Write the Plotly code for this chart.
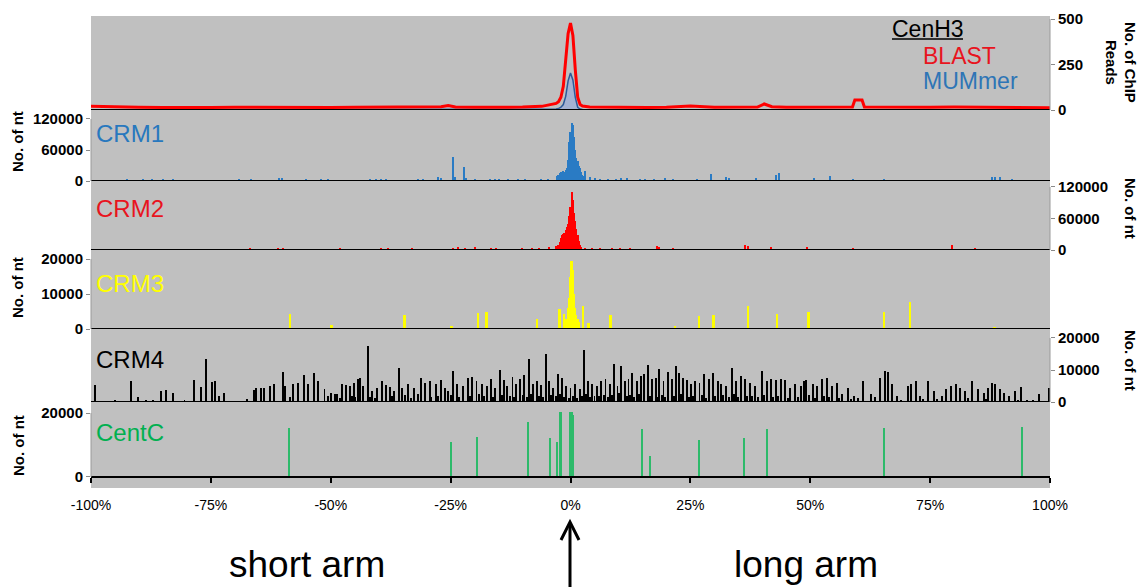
import plotly.graph_objects as go

# ------------------------------------------------------------------ data
x_tick_vals = [-100, -75, -50, -25, 0, 25, 50, 75, 100]
x_tick_text = ['-100%', '-75%', '-50%', '-25%', '0%', '25%', '50%', '75%', '100%']

# CenH3 ChIP reads (position in % of arm, reads)
cenh3_pos = [-100, -95, -90, -85, -80, -75, -70, -65, -60, -55,
             -50, -45, -40, -35, -30, -27, -25.5, -24, -20, -15,
             -10, -6, -4, -3, -2.5, -2, -1.5, -1, -0.5, 0,
             0.5, 1, 1.5, 2, 2.5, 4, 8, 12, 16, 20,
             25, 30, 35, 39, 40.4, 42, 45, 50, 55, 58.8,
             59.3, 60.8, 61.3, 65, 70, 75, 80, 85, 90, 95,
             100]
blast = [20, 16, 15, 14, 16, 14, 15, 14, 16, 15,
         14, 15, 16, 14, 15, 18, 25, 17, 15, 14,
         16, 20, 28, 36, 45, 70, 130, 260, 420, 478,
         410, 220, 70, 30, 22, 17, 15, 16, 14, 15,
         22, 15, 14, 16, 33, 18, 15, 16, 15, 16,
         55, 55, 16, 15, 14, 15, 16, 15, 18, 15,
         13]
mummer = [2, 2, 2, 2, 2, 2, 2, 2, 2, 2,
          2, 2, 2, 2, 2, 2, 3, 2, 2, 2,
          2, 2, 3, 5, 8, 15, 30, 75, 160, 203,
          165, 70, 15, 5, 3, 2, 2, 2, 2, 2,
          2, 2, 2, 2, 4, 2, 2, 2, 2, 2,
          6, 6, 2, 2, 2, 2, 2, 2, 2, 2,
          2]

crm1_pos = [-92.5, -89.2, -87.3, -85.0, -82.9, -69.2, -66.6, -60.7, -60.2, -55.1,
            -52.0, -50.5, -41.7, -40.5, -39.5, -38.4, -31.8, -30.8, -27.6, -26.9,
            -24.5, -24.0, -22.1, -21.7, -20.0, -16.8, -15.8, -14.8, -13.0, -10.9,
            -9.5, -6.1, -4.7, -2.9,
            -2.5, -2.25, -2.0, -1.75, -1.5, -1.25, -1.0, -0.75, -0.5, -0.25,
            0.0, 0.25, 0.5, 0.75, 1.0, 1.25, 1.5, 1.75, 2.0, 2.25, 2.5, 2.75,
            3.0, 4.0, 5.1, 6.1, 7.9, 9.6, 10.6, 11.7, 14.5, 15.5,
            17.4, 19.7, 21.4, 26.3, 29.4, 32.4, 33.0, 38.7, 42.9, 43.4,
            50.7, 54.1, 58.9, 65.3, 87.9, 88.6, 89.5, 92.1]
crm1_val = [2500, 2000, 3000, 4000, 3000, 3500, 2000, 5000, 5000, 3500,
            2500, 4000, 3500, 3000, 4500, 2500, 2500, 3500, 8000, 5000,
            47000, 8000, 27000, 6000, 3000, 4000, 4000, 3000, 3000, 3500,
            2500, 3500, 3500, 10000,
            12000, 15000, 18000, 14000, 20000, 17000, 22000, 25000, 40000, 75000,
            95000, 112000, 108000, 85000, 60000, 45000, 38000, 30000, 25000, 18000, 12000, 10000,
            20000, 8000, 5000, 4000, 3500, 4000, 6000, 5000, 4000, 4000,
            3000, 5000, 3000, 2500, 13000, 8000, 5000, 5000, 12000, 15000,
            5000, 9000, 3000, 2000, 7000, 8000, 7000, 3000]

crm2_pos = [-66.8, -61.0, -60.0, -48.0, -39.5, -38.0, -33.0, -24.5, -23.5, -22.0,
            -20.0, -16.5, -15.5, -10.0, -8.0, -6.5, -4.4, -3.0,
            -2.5, -2.25, -2.0, -1.75, -1.5, -1.25, -1.0, -0.75, -0.5, -0.25,
            0.0, 0.25, 0.5, 0.75, 1.0, 1.25, 1.5, 1.75, 2.0, 2.25,
            3.0, 4.4, 6.1, 8.6, 10.3, 12.4, 18.0, 18.5, 21.4, 36.5,
            37.0, 41.8, 49.4, 58.9, 79.5, 84.4]
crm2_val = [3000, 4000, 4000, 3000, 3500, 4000, 3000, 3500, 5000, 4000,
            5000, 4000, 3000, 3000, 3000, 3000, 5000, 8000,
            10000, 15000, 22000, 28000, 30000, 32000, 38000, 44000, 50000, 65000,
            82000, 111000, 95000, 70000, 55000, 40000, 28000, 18000, 10000, 6000,
            4000, 3500, 4000, 3500, 4000, 3500, 7000, 5000, 3000, 9000,
            8000, 5000, 5000, 3000, 9000, 4000]

crm3_pos = [-58.4, -49.8, -34.6, -24.8, -19.3, -17.5, -6.9, -2.2, -1.3,
            -0.75, -0.5, -0.25, 0.0, 0.25, 0.5, 0.75, 1.0, 1.25, 1.5, 1.75,
            2.6, 3.8, 8.4, 21.8, 26.9, 29.9, 37.1, 43.1, 49.7, 65.4, 70.8, 88.5]
crm3_val = [4300, 1100, 4000, 800, 4700, 5000, 2900, 5700, 4300,
            3000, 6000, 9000, 15000, 19500, 17000, 10000, 6000, 4000, 3000, 2000,
            6600, 1800, 4000, 800, 3700, 4000, 6600, 4200, 5000, 4900, 7800, 500]

crm4_pos = [-99.1, -91.7, -90.2, -88.5, -85.4, -84.4, -82.9, -78.6, -77.1, -76.1,
            -74.8, -74.2, -73.3, -72.3, -69.1, -66.1, -65.5, -64.6, -63.9, -62.7,
            -61.8, -60.0, -59.5, -57.8, -56.9, -55.6, -54.7, -53.5, -52.7, -51.3,
            -49.9, -49.2, -48.6, -47.7, -46.9, -46.0, -45.1, -44.4, -43.9, -43.2,
            -42.2, -41.3, -40.3, -39.3, -38.4, -37.7, -36.8, -35.8, -35.2, -33.9,
            -32.6, -31.2, -30.3, -29.4, -28.1, -27.0, -26.2, -25.6, -24.6, -23.7,
            -22.4, -21.4, -20.5, -19.6, -18.5, -17.5, -16.6, -15.7, -14.8, -13.9,
            -13.2, -12.1, -11.3, -10.5, -9.6, -8.7, -7.8, -7.0, -6.1, -5.2,
            -4.5, -3.6, -2.6, -1.7, -0.9, 0.0, 0.9, 1.9, 2.8, 3.6,
            4.5, 5.5, 6.4, 7.3, 8.3, 9.1, 9.8, 10.5, 11.3, 12.1,
            12.9, 13.8, 14.7, 15.3, 16.2, 17.0, 17.9, 18.5, 19.4, 20.3,
            21.1, 22.0, 22.6, 23.4, 24.3, 25.2, 26.0, 26.9, 27.9, 28.8,
            29.7, 30.7, 31.3, 32.4, 33.6, 34.5, 35.5, 36.4, 37.5, 38.4,
            39.9, 40.9, 41.8, 42.8, 43.9, 44.8, 45.8, 46.9, 48.0, 48.6,
            49.2, 50.5, 51.5, 52.4, 53.5, 54.6, 55.6, 56.6, 57.8, 59.2,
            61.0, 62.7, 64.6, 65.5, 66.2, 67.1, 68.1, 70.3, 71.0, 72.0,
            72.9, 74.6, 75.8, 77.4, 78.4, 79.3, 80.3, 81.2, 82.2, 83.8,
            85.0, 86.3, 87.0, 88.0, 88.6, 89.5, 90.5, 91.4, 92.7, 94.0,
            95.3, 97.8, 99.7]
crm4_val = [5300, 6600, 1700, 500, 3400, 3750, 2900, 6800, 4700, 13300,
            6400, 6600, 1900, 2900, 300, 3750, 4300, 4500, 4500, 5000,
            5500, 9400, 5000, 5500, 6000, 8400, 5500, 9000, 6600, 4000,
            2900, 2600, 2400, 5500, 5300, 5000, 6000, 7300, 7600, 5000,
            17500, 3400, 4300, 6600, 5300, 4700, 3400, 10500, 4500, 5500,
            4300, 7600, 6000, 6600, 5500, 6800, 4500, 3400, 9600, 5500,
            5000, 7600, 7800, 6600, 5500, 5000, 7100, 4500, 9900, 6800,
            5000, 7800, 5500, 7100, 8400, 13400, 5500, 6600, 5200, 14900,
            6600, 4500, 8600, 7600, 5000, 4500, 5500, 4000, 16300, 6600,
            5500, 5000, 6600, 7100, 5500, 11800, 5000, 11400, 6600, 7100,
            9200, 6600, 8100, 8900, 11600, 7100, 7600, 10200, 6600, 9500,
            7100, 11300, 9200, 7600, 6800, 5500, 6600, 6000, 8600, 7100,
            9200, 6600, 5500, 5000, 10700, 6600, 8100, 7100, 6000, 5000,
            9700, 6600, 7100, 6800, 7100, 6800, 4500, 5500, 5000, 6600,
            6800, 5500, 5000, 7100, 7600, 5000, 6000, 2400, 4500, 1900,
            6600, 2400, 7600, 9700, 9500, 5500, 1900, 5000, 5500, 6600,
            1900, 6600, 3400, 1900, 4000, 5000, 5500, 4500, 3400, 6600,
            4000, 2900, 4500, 6000, 5500, 4000, 2900, 1900, 3400, 4700,
            500, 2400, 4300]
crm4_low_pos = [-95.0, -87.0, -80.5, -70.5, -67.5, -58.5, -50.6, -48.0, -45.6, -44.9,
                -41.8, -40.8, -37.2, -34.5, -33.2, -31.8, -29.0, -27.6, -25.0, -23.2,
                -21.0, -19.0, -18.0, -16.1, -14.3, -12.6, -11.7, -10.0, -9.1, -8.2,
                -6.6, -5.7, -4.0, -3.1, -2.2, -1.3, -0.4, 0.5, 1.4, 2.3,
                3.2, 4.0, 5.0, 6.0, 6.9, 7.8, 8.7, 10.1, 11.7, 12.5,
                13.3, 14.2, 16.6, 18.0, 19.0, 19.8, 21.6, 23.0, 24.7, 25.6,
                27.4, 28.3, 30.2, 31.8, 33.0, 34.0, 35.0, 36.9, 37.9, 39.2,
                40.4, 42.3, 43.3, 45.3, 47.4, 49.8, 51.0, 52.9, 54.0, 56.0,
                58.5, 60.0, 63.5, 69.0, 73.6, 76.5, 82.9, 86.6, 93.3, 96.5]
crm4_low_val = [600, 500, 400, 300, 800, 1500, 1800, 1200, 2000, 1600,
                1500, 1200, 1800, 2200, 1400, 2500, 1700, 2000, 2200, 1500,
                1800, 2400, 1900, 1600, 2300, 2000, 1500, 2100, 1700, 2600,
                1900, 1500, 2200, 1800, 2500, 1600, 1400, 2000, 1300, 1800,
                2400, 1600, 2000, 1900, 2200, 1500, 2100, 2700, 1800, 2300,
                1600, 2400, 2000, 1700, 2200, 1500, 1800, 2500, 1600, 2000,
                2300, 1400, 1900, 2200, 1500, 2600, 1700, 2000, 1800, 1600,
                2300, 1500, 1900, 1400, 1700, 2100, 1300, 1800, 1500, 1200,
                900, 1100, 1600, 700, 1000, 800, 1200, 900, 700, 500]

centc_pos = [-58.7, -24.8, -19.4, -8.8, -4.2, -2.9, -2.2, -1.9, 0.0, 0.2,
             0.4, 0.6, 15.0, 16.5, 26.9, 36.1, 40.9, 65.3, 94.2]
centc_val = [15300, 10900, 12500, 17200, 12200, 10900, 20200, 20200, 20400, 20400,
             20400, 19500, 15000, 6600, 11600, 12200, 15000, 15300, 15600]

for a, b in [(cenh3_pos, blast), (cenh3_pos, mummer), (crm1_pos, crm1_val),
             (crm2_pos, crm2_val), (crm3_pos, crm3_val), (crm4_pos, crm4_val),
             (crm4_low_pos, crm4_low_val), (centc_pos, centc_val)]:
    assert len(a) == len(b), (len(a), len(b))

# ------------------------------------------------------------------ layout helpers
W, H = 1143, 587
def fx(px):
    return px / W
def fy(py):
    return 1 - py / H

XL, XR = 91, 1050
panel_px = [(16, 110), (110, 181), (181, 250), (250, 329), (329, 402), (402, 488)]
y_ranges = [[0, 516.5], [0, 137400], [0, 131400], [0, 22570], [0, 22810], [-3440, 23440]]
y_sides = ['right', 'left', 'right', 'left', 'right', 'left']
y_ticks = [[0, 250, 500], [0, 60000, 120000], [0, 60000, 120000],
           [0, 10000, 20000], [0, 10000, 20000], [0, 20000]]
suffix = ['', '2', '3', '4', '5', '6']

FONT = 'Liberation Sans, Arial, sans-serif'
BLUE = '#2a7bc4'
RED = '#ff0000'
YELLOW = '#ffff00'
GREEN = '#00b050'

fig = go.Figure()

# top panel: CenH3 reads
fig.add_trace(go.Scatter(x=cenh3_pos, y=mummer, mode='lines', name='MUMmer',
                         line=dict(color='#2c5a9a', width=1.5),
                         fill='tozeroy', fillcolor='rgba(140,165,225,0.55)',
                         xaxis='x', yaxis='y'))
fig.add_trace(go.Scatter(x=cenh3_pos, y=blast, mode='lines', name='BLAST',
                         line=dict(color=RED, width=3),
                         xaxis='x', yaxis='y'))

bar_sets = [
    (crm1_pos, crm1_val, BLUE, 0.25, '2'),
    (crm2_pos, crm2_val, RED, 0.25, '3'),
    (crm3_pos, crm3_val, YELLOW, 0.4, '4'),
    (crm4_low_pos, crm4_low_val, 'black', 0.2, '5'),
    (crm4_pos, crm4_val, 'black', 0.2, '5'),
    (centc_pos, centc_val, '#2dba6a', 0.25, '6'),
]
for pos, val, col, w, s in bar_sets:
    fig.add_trace(go.Bar(x=pos, y=val, width=w, marker=dict(color=col, line=dict(width=0)),
                         xaxis='x' + s, yaxis='y' + s))

layout = dict(
    width=W, height=H, autosize=False,
    margin=dict(l=0, r=0, t=0, b=0, autoexpand=False),
    paper_bgcolor='white', plot_bgcolor='#c0c0c0',
    showlegend=False, bargap=0, barmode='overlay',
    font=dict(family=FONT, color='black'),
)

shapes = []
for i in range(6):
    s = suffix[i]
    top, bot = panel_px[i]
    xa = dict(domain=[fx(XL), fx(XR)], range=[-100, 100], anchor='y' + s,
              showgrid=False, zeroline=False, showline=False, automargin=False,
              showticklabels=False, ticks='', fixedrange=True)
    if i == 5:
        xa.update(anchor='free', position=fy(477), showline=True, linecolor='black',
                  linewidth=2, ticks='outside', ticklen=5, tickwidth=2, tickcolor='black',
                  showticklabels=True, tickvals=x_tick_vals, ticktext=x_tick_text,
                  tickfont=dict(size=14, family=FONT, color='black'),
                  ticklabelstandoff=10)
    ya = dict(domain=[fy(bot), fy(top)], range=y_ranges[i], anchor='x' + s,
              side=y_sides[i], showgrid=False, zeroline=False, showline=False,
              automargin=False,
              ticks='outside', ticklen=4, tickwidth=1, tickcolor='#8a8a8a',
              tickvals=y_ticks[i], ticktext=[str(v) for v in y_ticks[i]],
              tickfont=dict(size=15, family=FONT, color='black', weight='bold'),
              fixedrange=True)
    layout['xaxis' + s] = xa
    layout['yaxis' + s] = ya
    # baseline
    if i < 5:
        shapes.append(dict(type='line', xref='paper', yref='y' + s,
                           x0=fx(XL), x1=fx(XR), y0=0, y1=0,
                           line=dict(color='black', width=2), layer='above'))
    # y axis line from 0 to top tick
    xline = XL if y_sides[i] == 'left' else XR
    shapes.append(dict(type='line', xref='paper', yref='y' + s,
                       x0=fx(xline), x1=fx(xline), y0=0, y1=y_ticks[i][-1],
                       line=dict(color='#9a9a9a', width=1), layer='above'))

# CenH3 underline
shapes.append(dict(type='line', xref='paper', yref='paper', x0=fx(892), x1=fx(963),
                   y0=fy(39), y1=fy(39), line=dict(color='black', width=1.5)))
# centromere arrow
shapes.append(dict(type='line', xref='paper', yref='paper', x0=fx(570), x1=fx(570),
                   y0=fy(523), y1=fy(587), line=dict(color='black', width=3)))
shapes.append(dict(type='path', xref='paper', yref='paper',
                   path='M %f,%f L %f,%f L %f,%f' % (fx(561), fy(540), fx(570), fy(522), fx(579), fy(540)),
                   line=dict(color='black', width=3)))
layout['shapes'] = shapes

ann = []
def text(x, y, t, size, color='black', xanchor='left', bold=False, angle=0):
    ann.append(dict(x=fx(x), y=fy(y), xref='paper', yref='paper', text=t, showarrow=False,
                    xanchor=xanchor, yanchor='middle', textangle=angle,
                    font=dict(family=FONT, size=size, color=color,
                              weight='bold' if bold else 'normal')))

panel_labels = ['CRM1', 'CRM2', 'CRM3', 'CRM4', 'CentC']
label_colors = ['#2878be', '#e8141e', YELLOW, 'black', GREEN]
label_y = [134, 208, 284, 359, 432]
for t, c, y in zip(panel_labels, label_colors, label_y):
    text(94, y, t, 24, c)

text(890, 29, 'CenH3', 23)
text(921, 56, 'BLAST', 23, '#e8141e')
text(921, 81, 'MUMmer', 23, '#2e75b6')

# axis titles
text(1120, 62, 'No. of ChIP<br>Reads', 15, xanchor='center', bold=True, angle=90)
text(1131, 208, 'No. of nt', 15, xanchor='center', bold=True, angle=90)
text(1131, 360, 'No. of nt', 15, xanchor='center', bold=True, angle=90)
text(18, 142, 'No. of nt', 15, xanchor='center', bold=True, angle=-90)
text(18, 288, 'No. of nt', 15, xanchor='center', bold=True, angle=-90)
text(18, 446, 'No. of nt', 15, xanchor='center', bold=True, angle=-90)

text(307, 564, 'short arm', 37, xanchor='center')
text(806, 564, 'long arm', 37, xanchor='center')
layout['annotations'] = ann

fig.update_layout(**layout)
fig.write_html('out.html')
